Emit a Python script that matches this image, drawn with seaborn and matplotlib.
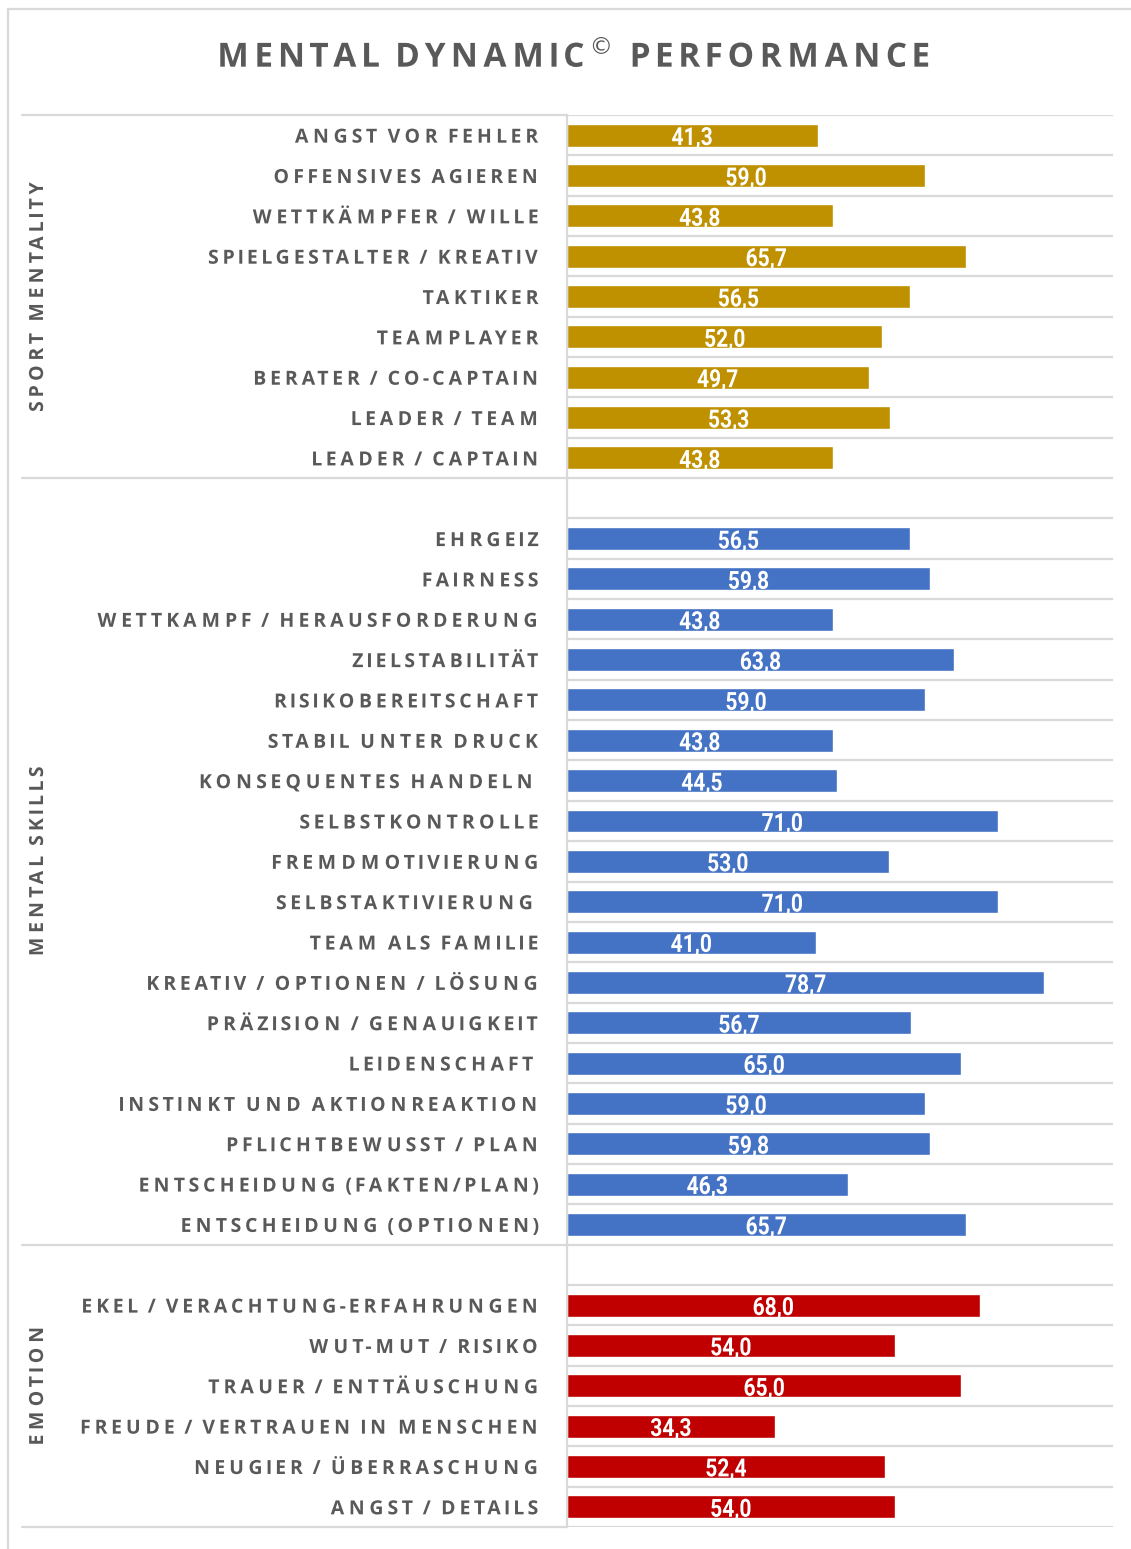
import matplotlib
matplotlib.use("Agg")
import numpy as np
import matplotlib.pyplot as plt
import matplotlib.transforms as mtransforms
from matplotlib.lines import Line2D
from matplotlib.path import Path
from matplotlib.patheffects import AbstractPathEffect
import seaborn as sns
import pandas as pd

# ---------------- data ----------------
groups = ["SPORT MENTALITY", "MENTAL SKILLS", "EMOTION"]
group_colors = ["#BF9000", "#4472C4", "#C00000"]

sport_labels = ["ANGST VOR FEHLER", "OFFENSIVES AGIEREN", "WETTKÄMPFER / WILLE",
                "SPIELGESTALTER / KREATIV", "TAKTIKER", "TEAMPLAYER",
                "BERATER / CO-CAPTAIN", "LEADER / TEAM", "LEADER / CAPTAIN"]
sport_values = [41.3, 59.0, 43.8, 65.7, 56.5, 52.0, 49.7, 53.3, 43.8]

skills_labels = ["EHRGEIZ", "FAIRNESS", "WETTKAMPF / HERAUSFORDERUNG", "ZIELSTABILITÄT",
                 "RISIKOBEREITSCHAFT", "STABIL UNTER DRUCK", "KONSEQUENTES HANDELN ",
                 "SELBSTKONTROLLE", "FREMDMOTIVIERUNG", "SELBSTAKTIVIERUNG ",
                 "TEAM ALS FAMILIE", "KREATIV / OPTIONEN / LÖSUNG", "PRÄZISION / GENAUIGKEIT",
                 "LEIDENSCHAFT ", "INSTINKT UND AKTIONREAKTION", "PFLICHTBEWUSST / PLAN",
                 "ENTSCHEIDUNG (FAKTEN/PLAN)", "ENTSCHEIDUNG (OPTIONEN)"]
skills_values = [56.5, 59.8, 43.8, 63.8, 59.0, 43.8, 44.5, 71.0, 53.0, 71.0,
                 41.0, 78.7, 56.7, 65.0, 59.0, 59.8, 46.3, 65.7]

emotion_labels = ["EKEL / VERACHTUNG-ERFAHRUNGEN", "WUT-MUT / RISIKO", "TRAUER / ENTTÄUSCHUNG",
                  "FREUDE / VERTRAUEN IN MENSCHEN", "NEUGIER / ÜBERRASCHUNG", "ANGST / DETAILS"]
emotion_values = [68.0, 54.0, 65.0, 34.3, 52.4, 54.0]

title = r"MENTAL DYNAMIC$^{©}$ PERFORMANCE"
x_max = 90

# blank spacer rows open the 2nd and 3rd groups
blank1, blank2 = " ", "  "
order = sport_labels + [blank1] + skills_labels + [blank2] + emotion_labels
group_rows = [sport_labels, [blank1] + skills_labels, [blank2] + emotion_labels]

df = pd.DataFrame({
    "label": sport_labels + skills_labels + emotion_labels,
    "value": sport_values + skills_values + emotion_values,
    "group": [groups[0]] * len(sport_labels) + [groups[1]] * len(skills_labels)
             + [groups[2]] * len(emotion_labels),
})


# ---------------- text rendering helpers ----------------
class Tracking(AbstractPathEffect):
    """Spread glyphs apart (letter spacing) or squeeze glyphs (condensed look)."""

    def __init__(self, sx, anchor="center", mode="track"):
        super().__init__()
        self.sx, self.anchor, self.mode = sx, anchor, mode

    def draw_path(self, renderer, gc, tpath, affine, rgbFace=None):
        v = np.array(tpath.vertices, dtype=float)
        c = tpath.codes
        if c is None or len(v) == 0:
            renderer.draw_path(gc, tpath, affine, rgbFace)
            return
        valid = c != Path.CLOSEPOLY
        xs = v[valid, 0]
        if self.anchor == "right":
            x0 = xs.max()
        elif self.anchor == "left":
            x0 = xs.min()
        else:
            x0 = (xs.min() + xs.max()) / 2
        if self.mode == "scale":
            v[:, 0] = x0 + self.sx * (v[:, 0] - x0)
        else:
            starts = np.flatnonzero(c == Path.MOVETO)
            ends = list(starts[1:]) + [len(v)]
            for s, e in zip(starts, ends):
                m = valid[s:e]
                if not m.any():
                    continue
                seg = v[s:e, 0][m]
                cx = (seg.min() + seg.max()) / 2
                v[s:e, 0] += (self.sx - 1) * (cx - x0)
        renderer.draw_path(gc, Path(v, c), affine, rgbFace)


# ---------------- style ----------------
sns.set_theme(style="white")
plt.rcParams["font.family"] = ["Open Sans", "DejaVu Sans"]
TXT = "#595959"
GRID = "#D9D9D9"
LABEL_SIZE = 14
LABEL_TRACK = 1.32

W, H = 1131, 1549
fig = plt.figure(figsize=(W / 100, H / 100), dpi=100)
ax = fig.add_axes([567 / W, 1 - 1527 / H, (1113 - 567) / W, (1527 - 115) / H])

sns.barplot(data=df, x="value", y="label", hue="group", order=order,
            hue_order=groups, palette=group_colors, dodge=False, width=0.57,
            saturation=1, legend=False, ax=ax, orient="h", zorder=3)

n = len(order)
ax.set_xlim(0, x_max)
ax.set_ylim(n - 0.5, -0.5)
ax.set_xlabel("")
ax.set_ylabel("")
ax.set_xticks([])
for s in ["top", "right", "bottom"]:
    ax.spines[s].set_visible(False)
ax.spines["left"].set_color(GRID)
ax.spines["left"].set_linewidth(1.6)
ax.spines["left"].set_zorder(4)

ax.tick_params(axis="y", length=0, pad=19, labelsize=LABEL_SIZE, labelcolor=TXT)
for t in ax.get_yticklabels():
    t.set_fontweight("bold")
    t.set_path_effects([Tracking(LABEL_TRACK, anchor="right")])

# row gridlines
for k in range(n + 1):
    ax.axhline(k - 0.5, color=GRID, lw=1.6, zorder=1)

# group separators reaching to the left
blend = mtransforms.blended_transform_factory(ax.transAxes, ax.transData)
x_left = (22 - 567) / (1113 - 567)
sep_rows = [-0.5, len(sport_labels) - 0.5,
            len(sport_labels) + 1 + len(skills_labels) - 0.5, n - 0.5]
for yv in sep_rows:
    ax.plot([x_left, 0], [yv, yv], transform=blend, color=GRID, lw=1.6,
            clip_on=False, zorder=1)

# value labels (white, condensed look)
for lab, val in zip(df["label"], df["value"]):
    yi = order.index(lab)
    ax.text(val / 2, yi + 0.245, f"{val:.1f}".replace(".", ","), ha="center",
            va="baseline", color="white", fontsize=18, fontweight="bold",
            family=["Roboto", "DejaVu Sans"], zorder=5,
            path_effects=[Tracking(0.84, anchor="center", mode="scale")])

# group labels
for g, rows in zip(groups, group_rows):
    yc = (order.index(rows[0]) + order.index(rows[-1])) / 2
    ax.text(x_left + (38 - 22) / (1113 - 567), yc, g, transform=blend, rotation=90,
            ha="center", va="center", color=TXT, fontsize=LABEL_SIZE, fontweight="bold",
            clip_on=False, path_effects=[Tracking(LABEL_TRACK, anchor="center")])

# title
fig.text(573.5 / W, 1 - 67 / H, title, ha="center", va="baseline",
         fontsize=24, fontweight="bold", color=TXT,
         path_effects=[Tracking(1.22, anchor="center")])

# outer frame (top and left edges visible)
fig.add_artist(Line2D([8 / W, 1], [1 - 9 / H, 1 - 9 / H], color=GRID, lw=1.6))
fig.add_artist(Line2D([8 / W, 8 / W], [0, 1 - 9 / H], color=GRID, lw=1.6))

fig.savefig("out.png", dpi=100)
